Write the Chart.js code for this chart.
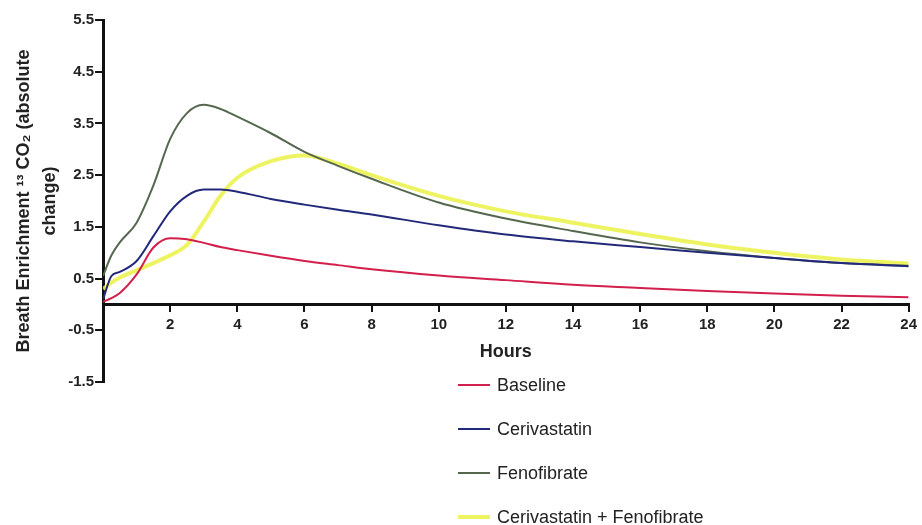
<!DOCTYPE html>
<html>
<head>
<meta charset="utf-8">
<script src="https://cdn.jsdelivr.net/npm/chart.js@4.4.1/dist/chart.umd.min.js"></script>
<style>
	body { margin: 0; background: #fff; }
	#wrap { position: relative; width: 922px; height: 525px; }
	#legend { position: absolute; left: 458px; top: 363px; font: 18px "Liberation Sans", Arial, sans-serif; color: #222; }
	#legend .item { height: 44px; display: flex; align-items: center; }
	#legend .swatch { display: inline-block; width: 32px; margin-right: 7px; }
</style>
</head>
<body>
<div id="wrap">
	<canvas id="myChart"></canvas>
	<div id="legend"></div>
</div>
<script>
// 시간 (hours)
const hours = [0, 0.25, 0.5, 1, 1.5, 2, 2.5, 3, 3.5, 4, 5, 6, 7, 8, 10, 12, 14, 16, 18, 20, 22, 24];

// 각 그룹별 13CO2 변화량
const baseline     = [0.05, 0.12, 0.22, 0.58, 1.10, 1.28, 1.26, 1.19, 1.11, 1.05, 0.94, 0.84, 0.76, 0.68, 0.56, 0.47, 0.38, 0.32, 0.26, 0.21, 0.17, 0.14];
const cerivastatin = [0.10, 0.55, 0.63, 0.84, 1.32, 1.80, 2.10, 2.22, 2.22, 2.18, 2.04, 1.93, 1.83, 1.74, 1.53, 1.35, 1.22, 1.11, 1.00, 0.90, 0.80, 0.74];
const fenofibrate  = [0.55, 0.95, 1.20, 1.58, 2.30, 3.20, 3.70, 3.86, 3.78, 3.63, 3.31, 2.95, 2.68, 2.43, 1.97, 1.66, 1.42, 1.20, 1.03, 0.90, 0.80, 0.75];
const combination  = [0.30, 0.42, 0.52, 0.66, 0.80, 0.95, 1.15, 1.60, 2.10, 2.45, 2.77, 2.88, 2.72, 2.50, 2.10, 1.80, 1.58, 1.36, 1.16, 1.00, 0.87, 0.79];

const seriesNames = ['Baseline', 'Cerivastatin', 'Fenofibrate', 'Cerivastatin + Fenofibrate'];
const yTicks = [-1.5, -0.5, 0.5, 1.5, 2.5, 3.5, 4.5, 5.5];

const FONT = '"Liberation Sans", Arial, Helvetica, sans-serif';

function toPoints(values) {
	return hours.map((h, i) => ({ x: h, y: values[i] }));
}

function makeSet(label, values, color, width) {
	return {
		label: label,
		data: toPoints(values),
		borderColor: color,
		backgroundColor: color,
		borderWidth: width,
		pointRadius: 0,
		cubicInterpolationMode: 'monotone',
		fill: false
	};
}

let ctx = document.getElementById('myChart').getContext('2d');
let myChart = new Chart(ctx, {
	type: 'line',
	data: {
		datasets: [
			makeSet(seriesNames[0], baseline, '#d21f4c', 2),
			makeSet(seriesNames[1], cerivastatin, '#23297a', 2),
			makeSet(seriesNames[2], fenofibrate, '#55684f', 2),
			makeSet(seriesNames[3], combination, 'rgba(236,242,80,0.9)', 4)
		]
	},
	options: {
		responsive: true,
		maintainAspectRatio: false,
		animation: false,
		layout: { padding: { top: 20, right: 10, bottom: 143, left: 7 } },
		plugins: {
			legend: { display: false },
			tooltip: { enabled: false }
		},
		scales: {
			x: {
				type: 'linear',
				position: { y: 0 },
				min: 0,
				max: 24,
				border: { color: '#111', width: 3 },
				grid: { drawOnChartArea: false, color: '#111', lineWidth: 2, tickLength: 6 },
				ticks: {
					stepSize: 2,
					color: '#222',
					font: { family: FONT, size: 15, weight: 'bold' },
					maxRotation: 0,
					padding: 5,
					callback: v => (v === 0 ? '' : v)
				},
				title: {
					display: true,
					text: 'Hours',
					color: '#222',
					font: { family: FONT, size: 18, weight: 'bold' },
					padding: { top: 3 }
				}
			},
			y: {
				min: -1.5,
				max: 5.5,
				border: { color: '#111', width: 3 },
				grid: { drawOnChartArea: false, color: '#111', lineWidth: 2, tickLength: 8 },
				afterBuildTicks: scale => { scale.ticks = yTicks.map(v => ({ value: v })); },
				ticks: {
					color: '#222',
					font: { family: FONT, size: 15, weight: 'bold' },
					padding: 1,
					callback: v => v.toFixed(1)
				},
				title: {
					display: true,
					text: ['Breath Enrichment \u00B9\u00B3 CO\u2082 (absolute', 'change)'],
					color: '#222',
					font: { family: FONT, size: 18, weight: 'bold', lineHeight: 1.45 },
					padding: { top: 4, bottom: 4 }
				}
			}
		}
	}
}); // new Chart

// 범례는 세로로 쌓아서 따로
let legendBox = document.getElementById('legend');
myChart.data.datasets.forEach(ds => {
	let item = document.createElement('div');
	item.className = 'item';
	let sw = document.createElement('span');
	sw.className = 'swatch';
	sw.style.borderTop = (ds.borderWidth > 2 ? 4 : 2) + 'px solid ' + ds.borderColor;
	item.appendChild(sw);
	item.appendChild(document.createTextNode(ds.label));
	legendBox.appendChild(item);
});
</script>
</body>
</html>
